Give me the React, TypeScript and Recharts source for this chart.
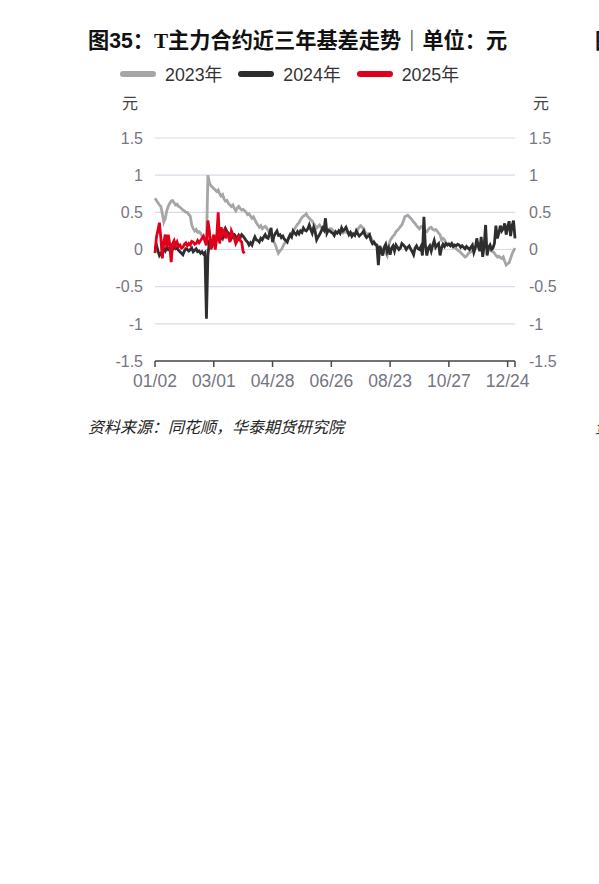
import {
  LineChart, Line, XAxis, YAxis, CartesianGrid
} from 'recharts'

const categories = [
  '01/02', '01/03', '01/04', '01/05', '01/08', '01/09', '01/10', '01/11', '01/12', '01/15',
  '01/16', '01/17', '01/18', '01/19', '01/22', '01/23', '01/24', '01/25', '01/26', '01/29',
  '01/30', '01/31', '02/01', '02/02', '02/05', '02/06', '02/07', '02/08', '02/09', '02/15',
  '02/16', '02/19', '02/20', '02/21', '02/22', '02/23', '02/26', '02/27', '02/28', '02/29',
  '03/01', '03/04', '03/05', '03/06', '03/07', '03/08', '03/11', '03/12', '03/13', '03/14',
  '03/15', '03/18', '03/19', '03/20', '03/21', '03/22', '03/25', '03/26', '03/27', '03/28',
  '03/29', '04/01', '04/02', '04/03', '04/05', '04/08', '04/09', '04/10', '04/11', '04/12',
  '04/15', '04/16', '04/17', '04/18', '04/19', '04/22', '04/23', '04/24', '04/25', '04/26',
  '04/28', '04/29', '04/30', '05/06', '05/07', '05/08', '05/09', '05/10', '05/11', '05/13',
  '05/14', '05/15', '05/16', '05/17', '05/20', '05/21', '05/22', '05/23', '05/24', '05/27',
  '05/28', '05/29', '05/30', '05/31', '06/03', '06/04', '06/05', '06/06', '06/07', '06/11',
  '06/12', '06/13', '06/14', '06/17', '06/18', '06/19', '06/20', '06/21', '06/24', '06/25',
  '06/26', '06/27', '06/28', '07/01', '07/02', '07/03', '07/04', '07/05', '07/08', '07/09',
  '07/10', '07/11', '07/12', '07/15', '07/16', '07/17', '07/18', '07/19', '07/22', '07/23',
  '07/24', '07/25', '07/26', '07/29', '07/30', '07/31', '08/01', '08/02', '08/05', '08/06',
  '08/07', '08/08', '08/09', '08/12', '08/13', '08/14', '08/15', '08/16', '08/19', '08/20',
  '08/23', '08/26', '08/27', '08/28', '08/29', '08/30', '09/02', '09/03', '09/04', '09/05',
  '09/06', '09/09', '09/10', '09/11', '09/12', '09/13', '09/14', '09/18', '09/19', '09/20',
  '09/23', '09/24', '09/25', '09/26', '09/27', '09/30', '10/08', '10/09', '10/10', '10/11',
  '10/14', '10/15', '10/16', '10/17', '10/18', '10/21', '10/22', '10/23', '10/24', '10/25',
  '10/27', '10/28', '10/29', '10/30', '10/31', '11/01', '11/04', '11/05', '11/06', '11/07',
  '11/08', '11/11', '11/12', '11/13', '11/14', '11/15', '11/18', '11/19', '11/20', '11/21',
  '11/22', '11/25', '11/26', '11/27', '11/28', '11/29', '12/02', '12/03', '12/04', '12/05',
  '12/06', '12/09', '12/10', '12/11', '12/12', '12/13', '12/16', '12/17', '12/18', '12/19',
  '12/24', '12/25', '12/26', '12/27', '12/30', '12/31',
]

const basis2023 = [
  0.69, 0.66, 0.63, 0.60, 0.58, 0.48, 0.37, 0.42, 0.52, 0.58,
  0.62, 0.65, 0.66, 0.63, 0.60, 0.61, 0.58, 0.57, 0.55, 0.53,
  0.52, 0.50, 0.50, 0.47, 0.45, 0.33, 0.28, 0.25, 0.27, 0.23,
  0.24, 0.22, 0.18, 0.15, 0.10, 0.05, 1.00, 0.90, 0.86, 0.84,
  0.82, 0.80, 0.78, 0.80, 0.75, 0.72, 0.74, 0.68, 0.65, 0.66,
  0.62, 0.60, 0.58, 0.60, 0.55, 0.52, 0.56, 0.58, 0.55, 0.53,
  0.54, 0.52, 0.50, 0.47, 0.48, 0.45, 0.42, 0.44, 0.40, 0.36,
  0.33, 0.30, 0.32, 0.28, 0.30, 0.31, 0.29, 0.25, 0.22, 0.19,
  0.14, 0.10, 0.06, 0.00, -0.05, -0.02, 0.00, 0.04, 0.08, 0.10,
  0.12, 0.15, 0.17, 0.22, 0.25, 0.28, 0.31, 0.34, 0.36, 0.40,
  0.43, 0.45, 0.46, 0.48, 0.44, 0.42, 0.40, 0.38, 0.35, 0.32,
  0.29, 0.31, 0.33, 0.30, 0.28, 0.26, 0.27, 0.24, 0.26, 0.28,
  0.28, 0.26, 0.24, 0.23, 0.22, 0.24, 0.25, 0.23, 0.22, 0.24,
  0.24, 0.22, 0.21, 0.20, 0.22, 0.20, 0.21, 0.22, 0.27, 0.30,
  0.32, 0.30, 0.28, 0.24, 0.20, 0.21, 0.18, 0.16, 0.12, 0.09,
  0.06, 0.05, 0.03, 0.02, 0.01, 0.00, -0.02, -0.04, -0.08, 0.05,
  0.12, 0.15, 0.18, 0.20, 0.24, 0.26, 0.28, 0.31, 0.33, 0.38,
  0.44, 0.45, 0.46, 0.44, 0.42, 0.40, 0.37, 0.35, 0.32, 0.30,
  0.28, 0.31, 0.30, 0.27, 0.25, 0.24, 0.27, 0.29, 0.30, 0.27,
  0.26, 0.27, 0.25, 0.22, 0.20, 0.13, 0.15, 0.13, 0.09, 0.06,
  0.08, 0.07, 0.05, 0.06, 0.03, 0.01, -0.01, -0.02, -0.04, -0.06,
  -0.08, -0.10, -0.09, -0.06, -0.04, -0.03, -0.01, 0.01, 0.03, 0.05,
  0.06, 0.08, 0.07, 0.10, 0.08, 0.06, 0.04, 0.02, 0.00, -0.02,
  -0.03, -0.05, -0.08, -0.10, -0.09, -0.11, -0.12, -0.10, -0.16, -0.21,
  -0.19, -0.18, -0.12, -0.06, -0.02, 0.02,
]

const basis2024 = [
  0.02, 0.06, -0.02, -0.08, -0.05, -0.03, 0.01, -0.02, 0.03, 0.00,
  0.02, -0.01, 0.00, 0.03, 0.01, 0.02, -0.01, -0.03, -0.05, -0.07,
  -0.02, 0.01, 0.00, -0.02, 0.00, 0.02, -0.03, -0.01, 0.01, -0.03,
  -0.02, -0.05, -0.03, -0.06, -0.04, -0.93, -0.08, 0.10, 0.08, 0.05,
  0.12, 0.09, 0.17, 0.14, 0.12, 0.18, 0.15, 0.22, 0.28, 0.24,
  0.22, 0.18, 0.15, 0.19, 0.20, 0.17, 0.15, 0.19, 0.16, 0.20,
  0.18, 0.15, 0.12, 0.10, 0.06, 0.09, 0.06, 0.12, 0.17, 0.13,
  0.12, 0.10, 0.15, 0.13, 0.17, 0.20, 0.16, 0.15, 0.22, 0.29,
  0.10, 0.18, 0.22, 0.25, 0.19, 0.20, 0.16, 0.18, 0.14, 0.12,
  0.10, 0.16, 0.20, 0.17, 0.25, 0.22, 0.20, 0.24, 0.21, 0.25,
  0.23, 0.29, 0.26, 0.25, 0.28, 0.33, 0.27, 0.22, 0.30, 0.24,
  0.13, 0.17, 0.20, 0.24, 0.29, 0.26, 0.42, 0.22, 0.26, 0.25,
  0.23, 0.22, 0.19, 0.24, 0.22, 0.25, 0.22, 0.29, 0.25, 0.27,
  0.30, 0.25, 0.20, 0.23, 0.18, 0.21, 0.19, 0.25, 0.21, 0.18,
  0.20, 0.22, 0.25, 0.19, 0.16, 0.18, 0.20, 0.12, 0.08, 0.10,
  0.07, 0.06, -0.21, 0.05, -0.02, -0.08, 0.03, 0.07, -0.03, 0.02,
  -0.07, 0.02, 0.05, -0.02, 0.06, 0.03, 0.00, 0.02, 0.08, 0.06,
  0.04, 0.00, 0.03, 0.05, 0.01, -0.03, -0.07, 0.02, 0.05, 0.01,
  0.00, 0.04, -0.08, 0.44, 0.05, -0.08, 0.02, 0.05, -0.02, 0.06,
  0.12, 0.03, 0.06, 0.08, -0.08, 0.02, 0.07, 0.04, 0.08, 0.06,
  0.07, 0.05, 0.08, 0.04, 0.06, 0.05, 0.07, 0.06, 0.03, 0.05,
  0.03, 0.01, 0.04, 0.02, 0.00, 0.03, 0.06, -0.04, 0.02, 0.15,
  0.04, -0.02, 0.17, -0.10, 0.05, 0.33, -0.08, 0.03, 0.06, 0.00,
  0.02, 0.08, 0.32, 0.15, 0.22, 0.32, 0.25, 0.28, 0.35, 0.20,
  0.30, 0.38, 0.18, 0.32, 0.39, 0.15,
]

const basis2025 = [
  -0.05, 0.17, 0.26, 0.36, 0.15, -0.12, 0.10, 0.20, 0.03, 0.20,
  0.08, -0.17, 0.08, 0.12, 0.05, 0.10, 0.04, 0.06, 0.02, 0.03,
  0.07, 0.09, 0.05, 0.08, 0.06, 0.11, 0.10, 0.07, 0.08, 0.12,
  0.09, 0.12, 0.15, 0.18, 0.12, 0.06, 0.39, 0.25, 0.00, 0.10,
  0.20, 0.00, 0.15, 0.50, 0.08, 0.30, 0.20, 0.25, 0.15, 0.22,
  0.18, 0.10, 0.25, 0.20, 0.15, 0.08, 0.12, 0.20, 0.12, 0.10,
  -0.03, -0.05,
]

const xTicks = ['01/02', '03/01', '04/28', '06/26', '08/23', '10/27', '12/24', '12/31']
const yTicks = [-1.5, -1, -0.5, 0, 0.5, 1, 1.5]

const series = [
  { key: 'y2023', name: '2023年', color: '#a6a6a6' },
  { key: 'y2024', name: '2024年', color: '#2e2e2e' },
  { key: 'y2025', name: '2025年', color: '#e0001b' },
]

const data = categories.map((date, i) => ({
  date,
  y2023: basis2023[i],
  y2024: basis2024[i],
  y2025: basis2025[i],
}))

const SANS = '"Liberation Sans", Arial, "Noto Sans CJK SC", sans-serif'
const tickStyle = { fill: '#75757f', fontSize: 16, fontFamily: SANS }

const text = (left: number, top: number, size: number, extra: any = {}) => ({
  position: 'absolute' as const, left, top, fontSize: size, lineHeight: `${size}px`,
  fontFamily: SANS, whiteSpace: 'nowrap' as const, ...extra,
})

export default function App() {
  return (
    <div style={{ position: 'absolute', left: 0, top: 0, width: 599, height: 884, overflow: 'hidden', background: '#fff' }}>
      <div style={text(88, 30, 21.2, { fontWeight: 'bold', color: '#111' })}>
        图35：<span style={{ fontFamily: '"Liberation Serif", serif' }}>T</span>主力合约近三年基差走势<span style={{ color: '#333' }}>｜</span>单位：元
      </div>
      <div style={text(595, 30, 21, { fontWeight: 'bold', color: '#111' })}>图36：</div>

      <div style={{ position: 'absolute', left: 120, top: 65, display: 'flex', alignItems: 'center', fontFamily: SANS, fontSize: 17.8, color: '#333' }}>
        {series.map(s => (
          <div key={s.key} style={{ display: 'flex', alignItems: 'center', marginRight: 16 }}>
            <span style={{ width: 36, height: 6, borderRadius: 3, background: s.color, marginRight: 9, marginTop: -2 }} />
            <span style={{ lineHeight: '20px' }}>{s.name}</span>
          </div>
        ))}
      </div>

      <div style={text(122, 96, 16, { color: '#444' })}>元</div>
      <div style={text(533, 96, 16, { color: '#444' })}>元</div>

      <LineChart width={599} height={400} data={data} margin={{ top: 138, right: 0, bottom: 9, left: 0 }}>
        <CartesianGrid vertical={false} stroke="#dadae8" strokeWidth={1.2} />
        <XAxis
          dataKey="date" ticks={xTicks} interval={0} height={30}
          tick={{ ...tickStyle, fontSize: 17.5 }} tickSize={6} tickMargin={8}
          axisLine={{ stroke: '#4a4a4a', strokeWidth: 1.5 }} tickLine={{ stroke: '#4a4a4a', strokeWidth: 1.5 }}
          tickFormatter={v => (v === '12/31' ? '' : v)}
        />
        <YAxis
          width={155} domain={[-1.5, 1.5]} ticks={yTicks} type="number"
          axisLine={false} tickLine={false} tick={tickStyle} tickMargin={6}
        />
        <YAxis
          yAxisId="r" orientation="right" width={84} domain={[-1.5, 1.5]} ticks={yTicks} type="number"
          axisLine={false} tickLine={false} tick={tickStyle} tickMargin={8}
        />
        {/* invisible copy so the right axis has a series and draws its ticks */}
        <Line
          yAxisId="r" dataKey="y2023" stroke="transparent" strokeWidth={0} dot={false}
          activeDot={false} legendType="none" isAnimationActive={false}
        />
        {series.map(s => (
          <Line
            key={s.key} type="linear" dataKey={s.key} name={s.name} stroke={s.color}
            strokeWidth={2.8} dot={false} activeDot={false} isAnimationActive={false}
          />
        ))}
      </LineChart>

      <div style={text(88, 420, 16, { fontStyle: 'italic', color: '#222' })}>资料来源：同花顺，华泰期货研究院</div>
      <div style={text(595, 420, 16, { fontStyle: 'italic', color: '#222' })}>资料来源</div>
    </div>
  )
}
